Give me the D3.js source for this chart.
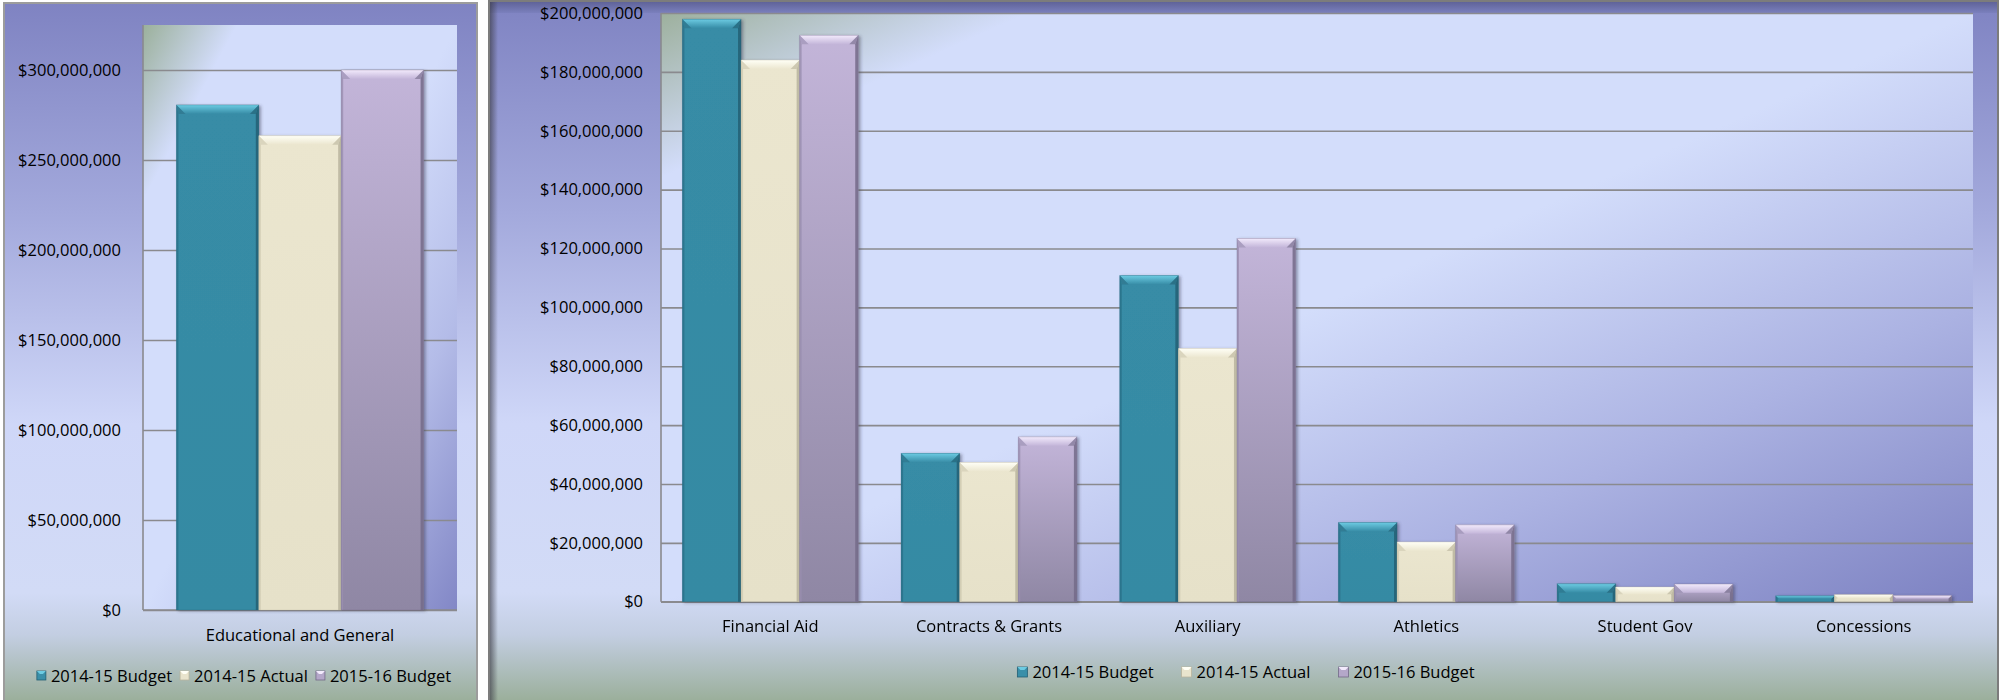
<!DOCTYPE html>
<html><head><meta charset="utf-8">
<script src="https://cdn.jsdelivr.net/npm/d3@7"></script>
<style>
html,body{margin:0;padding:0;background:#fff;}
svg{display:block;}
text{font-family:"Open Sans",sans-serif;fill:#000;}
</style></head><body>
<svg id="chart" width="2001" height="700"></svg>
<script>
// ---------------- DATA ----------------
const seriesNames = ["2014-15 Budget", "2014-15 Actual", "2015-16 Budget"];

const leftCategories = ["Educational and General"];
const leftBudget1415 = [280600000];
const leftActual1415 = [263500000];
const leftBudget1516 = [300000000];
const leftTickValues = [0, 50000000, 100000000, 150000000, 200000000, 250000000, 300000000];
const leftAxisMax = 325000000;

const rightCategories = ["Financial Aid", "Contracts & Grants", "Auxiliary", "Athletics", "Student Gov", "Concessions"];
const rightBudget1415 = [197900000, 50400000, 110800000, 26900000, 6100000, 2000000];
const rightActual1415 = [184000000, 47300000, 86000000, 20300000, 5000000, 2400000];
const rightBudget1516 = [192400000, 56000000, 123400000, 26100000, 6000000, 2100000];
const rightTickValues = [0, 20000000, 40000000, 60000000, 80000000, 100000000, 120000000, 140000000, 160000000, 180000000, 200000000];
const rightAxisMax = 200000000;

// ---------------- STYLES ----------------
const barStyles = [
  {body: "#378ca6", bodyBottom: "#358aa3", bevel: "#6ccbe2", left: "#2b7189", right: "#245f73", legend: "#3a8fa9"},
  {body: "#ebe6cf", bodyBottom: "#e6e1c9", bevel: "#fffff6", left: "#cfcab2", right: "#b9b49d", legend: "#e9e4cd"},
  {body: "#c3b5d9", bodyBottom: "#8f87a4", bevel: "#f2eafc", left: "#9a8fb0", right: "#736a88", legend: "#b4a7c9"}
];

const svg = d3.select("#chart");
const defs = svg.append("defs");

function linGrad(id, x1, y1, x2, y2, stops) {
  const g = defs.append("linearGradient").attr("id", id)
    .attr("x1", x1).attr("y1", y1).attr("x2", x2).attr("y2", y2);
  stops.forEach(s => g.append("stop").attr("offset", s[0]).attr("stop-color", s[1]).attr("stop-opacity", s[2] == null ? 1 : s[2]));
  return g;
}

linGrad("panelGrad", 0, 0, 0, 1, [
  [0, "#7f83c2"], [0.3, "#a3a9dc"], [0.6, "#cfd7f8"], [0.84, "#d2dbf6"], [0.9, "#c3cee2"], [1, "#98ad96"]
]);
linGrad("plotGradL", 0, 0, 1, 1, [
  [0, "#9bb09b"], [0.15, "#d3ddfb"], [0.5, "#d3ddfb"], [0.75, "#b4bce8"], [1, "#8287c6"]
]);
linGrad("plotGradR", 0, 0, 1, 1, [
  [0, "#9db09d"], [0.14, "#d3ddfb"], [0.5, "#d3ddfb"], [0.75, "#abb2e2"], [1, "#7d82c2"]
]);
linGrad("topBand", 0, 0, 0, 1, [[0, "#5f6399"], [1, "#7b80bd"]]);
linGrad("leftShadow", 0, 0, 1, 0, [[0, "#3c3c46", 0.65], [1, "#3c3c46", 0]]);
barStyles.forEach((s, i) => {
  linGrad("barBody" + i, 0, 0, 0, 1, [[0, s.body], [1, s.bodyBottom]]);
  linGrad("barBevel" + i, 0, 0, 0, 1, [[0, s.bevel], [1, s.body]]);
});
const f = defs.append("filter").attr("id", "barShadow").attr("x", "-10%").attr("y", "-10%").attr("width", "130%").attr("height", "130%");
f.append("feDropShadow").attr("dx", 2).attr("dy", 1).attr("stdDeviation", 1.5)
  .attr("flood-color", "#3a3a55").attr("flood-opacity", 0.45);

// ---------------- PANELS ----------------
svg.append("rect").attr("x", 4).attr("y", 3).attr("width", 473).attr("height", 702)
  .attr("fill", "url(#panelGrad)").attr("stroke", "#9c9c9c").attr("stroke-width", 2);

svg.append("rect").attr("x", 489).attr("y", 1).attr("width", 1509).attr("height", 704)
  .attr("fill", "url(#panelGrad)").attr("stroke", "#7c7c7c").attr("stroke-width", 2);
svg.append("rect").attr("x", 490).attr("y", 2).attr("width", 1507).attr("height", 11)
  .attr("fill", "url(#topBand)");
svg.append("rect").attr("x", 490).attr("y", 2).attr("width", 8).attr("height", 700)
  .attr("fill", "url(#leftShadow)");

// ---------------- CHART FUNCTION ----------------
function drawChart(o) {
  const g = svg.append("g");
  const {x0, x1, y0, y1} = o.plot;

  const x = d3.scaleBand().domain(o.categories).range([x0, x1])
    .paddingInner(o.pad).paddingOuter(o.pad / 2);
  const xs = d3.scaleBand().domain(seriesNames).range([0, x.bandwidth()]).padding(0);
  const y = d3.scaleLinear().domain([0, o.max]).range([y1, y0]);

  g.append("rect").attr("x", x0).attr("y", y0).attr("width", x1 - x0).attr("height", y1 - y0)
    .attr("fill", o.plotFill);

  const yAxis = d3.axisLeft(y).tickValues(o.ticks).tickSize(-(x1 - x0)).tickPadding(o.tickPad)
    .tickFormat(d => "$" + d3.format(",")(d));
  const ya = g.append("g").attr("transform", `translate(${x0},0)`).call(yAxis);
  ya.select(".domain").remove();
  ya.selectAll(".tick line").attr("stroke", "#8a8a8e").attr("stroke-width", 1.6);
  ya.selectAll(".tick text").attr("font-size", 16.5).attr("font-family", "Open Sans").attr("fill", "#000");

  g.append("line").attr("x1", x0).attr("x2", x0).attr("y1", y0).attr("y2", y1)
    .attr("stroke", "#8a8a8e").attr("stroke-width", 1.6);
  g.append("line").attr("x1", x0).attr("x2", x1).attr("y1", y1).attr("y2", y1)
    .attr("stroke", "#8a8a8e").attr("stroke-width", 1.6);

  const rows = [];
  o.categories.forEach((c, ci) => {
    o.series.forEach((arr, si) => rows.push({c, s: seriesNames[si], si, v: arr[ci]}));
  });
  const bars = g.append("g").attr("filter", "url(#barShadow)")
    .selectAll("g.bar").data(rows).join("g").attr("class", "bar");
  bars.each(function (d) {
    const bx = x(d.c) + xs(d.s), bw = xs.bandwidth();
    const by = y(d.v), bh = y(0) - y(d.v);
    const st = barStyles[d.si];
    const b = Math.min(9, bh / 2, bw / 2);
    const e = d3.select(this);
    e.append("rect").attr("x", bx).attr("y", by).attr("width", bw).attr("height", bh)
      .attr("fill", `url(#barBody${d.si})`);
    e.append("polygon").attr("points", [[bx, by], [bx + 2, by + b], [bx + 2, by + bh], [bx, by + bh]].join(" "))
      .attr("fill", st.left).attr("opacity", 0.8);
    e.append("polygon").attr("points", [[bx + bw, by], [bx + bw - 3, by + b], [bx + bw - 3, by + bh], [bx + bw, by + bh]].join(" "))
      .attr("fill", st.right).attr("opacity", 0.85);
    e.append("polygon").attr("points", [[bx, by], [bx + bw, by], [bx + bw - b, by + b], [bx + b, by + b]].join(" "))
      .attr("fill", `url(#barBevel${d.si})`);
    e.append("polygon").attr("points", [[bx, by], [bx + b, by + b], [bx + 2, by + b]].join(" "))
      .attr("fill", st.left).attr("opacity", 0.6);
    e.append("polygon").attr("points", [[bx + bw, by], [bx + bw - b, by + b], [bx + bw - 3, by + b]].join(" "))
      .attr("fill", st.right).attr("opacity", 0.6);
    e.append("rect").attr("x", bx).attr("y", by).attr("width", bw).attr("height", bh)
      .attr("fill", "none").attr("stroke", st.right).attr("stroke-opacity", 0.35).attr("stroke-width", 0.8);
  });

  const xa = g.append("g").attr("transform", `translate(0,${y1})`)
    .call(d3.axisBottom(x).tickSize(0).tickPadding(o.catPad));
  xa.select(".domain").remove();
  xa.selectAll(".tick text").attr("font-size", 16.5).attr("font-family", "Open Sans").attr("fill", "#000");

  const lg = g.append("g");
  const items = lg.selectAll("g.item").data(seriesNames).join("g").attr("class", "item");
  items.append("text").text(d => d).attr("font-size", 16.5).attr("y", o.legend.y);
  const widths = [];
  items.select("text").each(function () { widths.push(this.getComputedTextLength()); });
  const m = o.legend.marker, gap = o.legend.gap, sp = o.legend.spacing;
  const total = d3.sum(widths) + seriesNames.length * (m + gap) + sp * (seriesNames.length - 1);
  let cx = o.legend.cx - total / 2;
  items.each(function (d, i) {
    const it = d3.select(this);
    const st = barStyles[i];
    it.insert("rect", "text").attr("x", cx).attr("y", o.legend.y - 11).attr("width", m).attr("height", m)
      .attr("fill", st.legend).attr("stroke", st.right).attr("stroke-width", 0.8);
    it.insert("polygon", "text").attr("points", [[cx, o.legend.y - 11], [cx + m, o.legend.y - 11], [cx + m - 3, o.legend.y - 8], [cx + 3, o.legend.y - 8]].join(" "))
      .attr("fill", st.bevel);
    it.select("text").attr("x", cx + m + gap);
    cx += m + gap + widths[i] + sp;
  });
}

drawChart({
  categories: leftCategories,
  series: [leftBudget1415, leftActual1415, leftBudget1516],
  max: leftAxisMax, ticks: leftTickValues,
  plot: {x0: 143, x1: 457, y0: 25, y1: 610},
  pad: 0.213, tickPad: 22, catPad: 19,
  plotFill: "url(#plotGradL)",
  legend: {y: 682, cx: 244, marker: 9, gap: 5, spacing: 8}
});

drawChart({
  categories: rightCategories,
  series: [rightBudget1415, rightActual1415, rightBudget1516],
  max: rightAxisMax, ticks: rightTickValues,
  plot: {x0: 661, x1: 1973, y0: 13, y1: 601.7},
  pad: 0.196, tickPad: 18, catPad: 19,
  plotFill: "url(#plotGradR)",
  legend: {y: 678, cx: 1246, marker: 10, gap: 5, spacing: 28}
});
</script>
</body></html>
